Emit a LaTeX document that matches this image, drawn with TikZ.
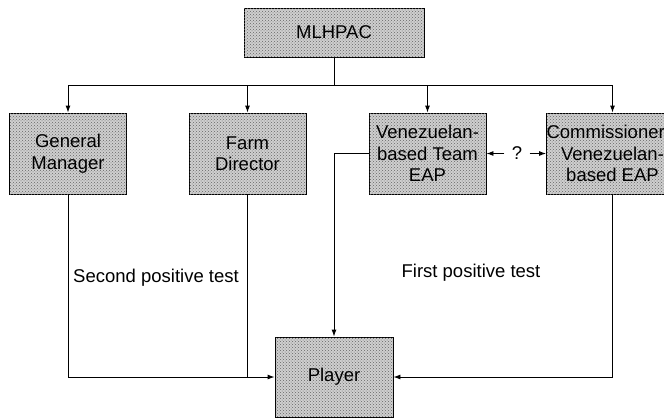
\documentclass[tikz,border=0pt]{standalone}
\usepackage{fontspec}
\setmainfont{Liberation Sans}
\usetikzlibrary{patterns,arrows.meta}
\begin{document}
\begin{tikzpicture}[x=1pt,y=-1pt,line width=0.9pt,
	box/.style={draw, fill=gray!38, postaction={pattern=crosshatch dots, pattern color=black!60}, align=center, inner sep=0pt, minimum width=117pt, minimum height=81pt, font=\fontsize{18.5}{21.5}\selectfont},
	lbl/.style={font=\fontsize{18.5}{21.5}\selectfont},
	tip/.style={-{Latex[length=7pt,width=5pt]}}]
	\useasboundingbox (0,0) rectangle (664,418);
	\clip (0,0) rectangle (664,418);
	\node[box, minimum width=180pt, minimum height=49pt] (mlhpac) at (334,32.5){MLHPAC};
	\node[box] (gm) at (68,153.5){General\\Manager};
	\node[box] (farm) at (247.5,153.5){Farm\\Director};
	\node[box] (ven) at (427.5,153.5){Venezuelan-\\based Team\\EAP};
	\node[box] (comm) at (612.5,153.5){Commissioner's\\Venezuelan-\\based EAP};
	\node[box, minimum width=118pt, minimum height=80pt] (player) at (334,377){Player};
	\coordinate (bus) at (334,85);
	\node[lbl, inner sep=7pt] (q) at (517,153.5){?};
	\node[lbl] (second) at (156,278){Second positive test};
	\node[lbl] (first) at (471,273){First positive test};
	% MLHPAC down to the four boxes
	\draw (mlhpac.south)--(bus);
	\foreach \n in {gm,farm,ven,comm}
		\draw[tip] (bus) -| (\n.north);
	% tests down to the player
	\draw[tip] (gm.south) |- (player.west);
	\draw (farm.south)--(farm.south |- player.west);
	\draw[tip] (ven.west) -| (player.north);
	\draw[tip] (comm.south) |- (player.east);
	\draw[tip] (q)--(ven.east);
	\draw[tip] (q)--(comm.west);
\end{tikzpicture}
\end{document}
